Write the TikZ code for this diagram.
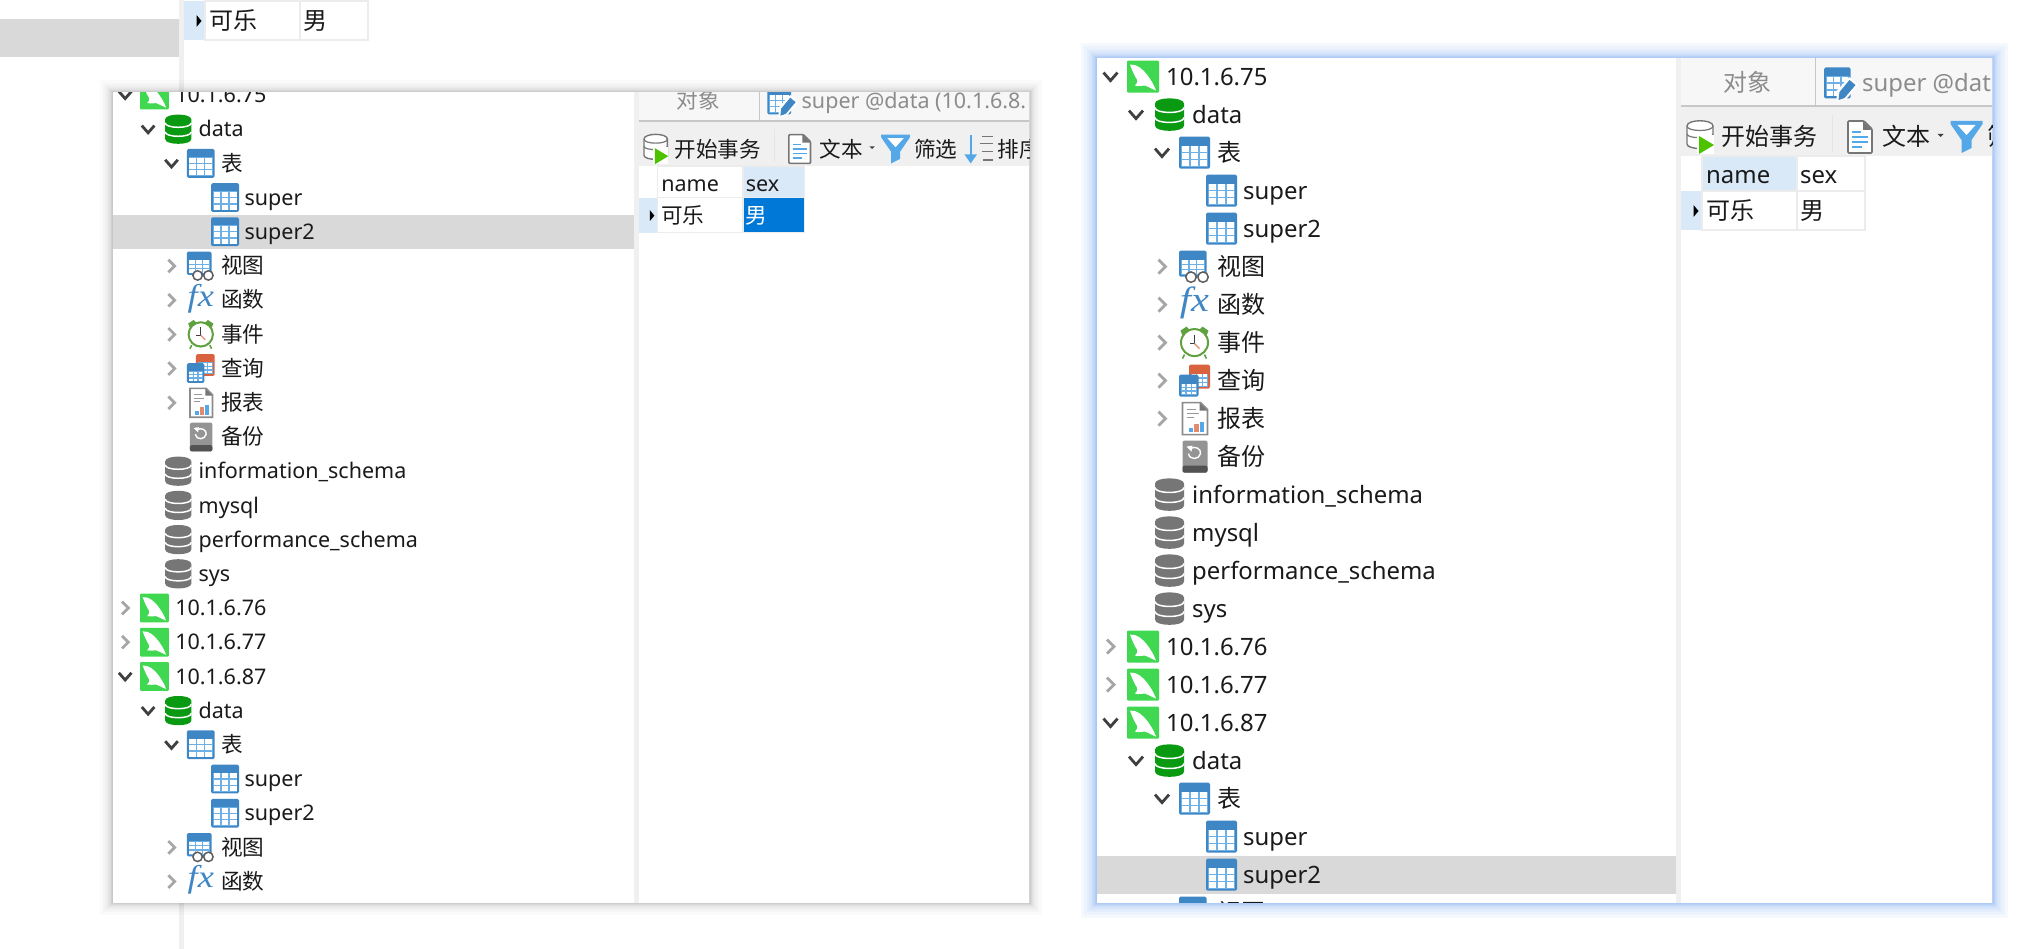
\documentclass[tikz,border=0pt]{standalone}
\usepackage{fontspec}
\setmainfont{Noto Sans}
\newfontfamily\cjk{Noto Sans CJK SC}
\newfontfamily\fxfont{Liberation Serif}
\usepackage{tikz}
\usetikzlibrary{positioning,calc}
\usepackage{xcolor}

\definecolor{tblue}{HTML}{3F86C4}
\definecolor{tcell}{HTML}{6DB0E6}
\definecolor{tred}{HTML}{D9623F}
\definecolor{dbgreen}{HTML}{0A9A12}
\definecolor{dbgray}{HTML}{767676}
\definecolor{srvgreen}{HTML}{40D850}
\definecolor{clockgreen}{HTML}{5FA03F}
\definecolor{ink}{HTML}{1A1A1A}
\definecolor{tabgray}{HTML}{8C8C8C}
\definecolor{chevdark}{HTML}{404040}
\definecolor{chevgray}{HTML}{A6A6A6}
\definecolor{paneline}{HTML}{F0F0F0}
\definecolor{selgray}{HTML}{D9D9D9}
\definecolor{headblue}{HTML}{D9E9F8}
\definecolor{cellblue}{HTML}{0078D7}
\definecolor{gridline}{HTML}{ECECEC}
\definecolor{toolblue}{HTML}{55A8E8}
\definecolor{wingray}{HTML}{000000}
\definecolor{winblue}{HTML}{5E9DF2}

\tikzset{
  navtext/.style={anchor=base west,inner sep=0pt,font=\fontsize{23.9}{28}\selectfont,text=ink},
  tabtext/.style={navtext,text=tabgray},
  sheetcell/.style={draw=gridline,line width=1.2pt}
}
\newcommand{\cn}[1]{{\cjk\fontsize{24}{28}\selectfont #1}}

% small table, given colour and box
\newcommand{\gridicon}[5]{
  \pgfmathsetmacro{\gw}{(#4-(#2)-4)/3}
  \pgfmathsetmacro{\gh}{(#5-(#3)-11)/3}
  \fill[#1,rounded corners=1.5pt] (#2,#3) rectangle (#4,#5);
  \fill[tcell] ({#2+2},{#3+9}) rectangle ({#4-2},{#5-2});
  \foreach \c in {0,1,2}
    \foreach \r in {0,1,2}
      \fill[white] ({#2+2+\c*\gw+.7},{#3+9+\r*\gh+.7}) rectangle ({#2+2+(\c+1)*\gw-.7},{#3+9+(\r+1)*\gh-.7});
}
\newcommand{\tableicon}{\gridicon{tblue}{-15.5}{-16}{15.5}{16}}
\newcommand{\dbicon}[1]{
  \fill[#1] (-14.5,-11) .. controls (-14.5,-18) and (14.5,-18) .. (14.5,-11) -- (14.5,11)
    .. controls (14.5,18) and (-14.5,18) .. (-14.5,11) -- cycle;
  \draw[white,line width=1.5pt] (-14.5,-7) .. controls (-14.5,-.5) and (14.5,-.5) .. (14.5,-7);
  \draw[white,line width=1.5pt] (-14.5,3) .. controls (-14.5,9.5) and (14.5,9.5) .. (14.5,3);
}
\newcommand{\greendb}{\dbicon{dbgreen}}
\newcommand{\graydb}{\dbicon{dbgray}}
\newcommand{\servericon}{
  \fill[srvgreen,rounded corners=1pt] (-16,-16) rectangle (16,16);
  \fill[white] (-13,-12) .. controls (-6,-13) and (0,-7) .. (4,-2) .. controls (7,2) and (11,8) .. (13,14)
    .. controls (8,12) and (5,10) .. (2,9) .. controls (-1,9) and (-5,10) .. (-8,9)
    .. controls (-6,7) and (-5,5) .. (-6,3) .. controls (-8,0) and (-11,-6) .. (-13,-12) -- cycle;
}
\newcommand{\viewicon}{
  \gridicon{tblue}{-15.5}{-16}{12}{10}
  \draw[chevdark!85,fill=white,line width=1.5pt] (-3.5,10.5) circle (5.2);
  \draw[chevdark!85,fill=white,line width=1.5pt] (8.5,10.5) circle (5.2);
}
\newcommand{\fxicon}{
  \node[inner sep=0pt,text=tblue,xscale=1.15,font=\fxfont\itshape\fontsize{35}{35}\selectfont] (fx) at (0,-2) {fx};
}
\newcommand{\clockicon}{
  \fill[clockgreen] (-14,-12) -- (-8,-16) -- (-5,-13) -- (-12,-7) -- cycle;
  \fill[clockgreen] (14,-12) -- (8,-16) -- (5,-13) -- (12,-7) -- cycle;
  \draw[clockgreen,line width=1.6pt] (-10,12) -- (-12,16) (10,12) -- (12,16);
  \draw[clockgreen,line width=2pt,fill=white] (0,0) circle (13.5);
  \draw[chevdark,line width=1.3pt] (0,-8) -- (0,1) -- (-5,1);
  \draw[tred!70,line width=1.3pt] (0,1) -- (5,6);
}
\newcommand{\queryicon}{
  \gridicon{tred}{-5.5}{-16}{15.5}{8}
  \gridicon{tblue}{-15.5}{-6}{4}{16}
}
\newcommand{\reporticon}{
  \draw[black!45,line width=1.7pt,fill=white] (-12,-16) -- (6,-16) -- (13,-9) -- (13,16) -- (-12,16) -- cycle;
  \fill[dbgray] (5,-16) -- (13,-8) -- (5,-8) -- cycle;
  \foreach \ly/\lw in {-9/9,-5/12,-1/7}
    \draw[black!40,line width=1.2pt] (-8,\ly) -- ({-8+\lw},\ly);
  \fill[toolblue] (-6,9) rectangle (-2,13.5);
  \fill[tred!75] (-1,5) rectangle (4,13.5);
  \fill[toolblue] (5,3) rectangle (9.5,13.5);
}
\newcommand{\backupicon}{
  \fill[black!42,rounded corners=2pt] (-12,-16) rectangle (13,16);
  \fill[black!68,rounded corners=2pt] (-12,9) rectangle (13,16);
  \draw[white,line width=1.4pt] (-4,-8) .. controls (0,-11) and (7,-8) .. (6,-3) .. controls (5,3) and (-5,4) .. (-6,-3);
  \fill[white] (-8,-10) -- (-2,-11) -- (-3,-5) -- cycle;
}
\newcommand{\chevopen}{\draw[chevdark,line width=2.8pt] (-7,-4) -- (0,4) -- (7,-4);}
\newcommand{\chevshut}{\draw[chevgray,line width=2.8pt] (-3.5,-7) -- (3.5,0) -- (-3.5,7);}

% toolbar icons
\newcommand{\txicon}{
  \draw[dbgray,line width=1.4pt,fill=white] (-13,-11) .. controls (-13,-18) and (13,-18) .. (13,-11) -- (13,7)
    .. controls (13,13) and (-13,13) .. (-13,7) -- cycle;
  \draw[dbgray,line width=1.2pt] (-13,-11) .. controls (-13,-5) and (13,-5) .. (13,-11);
  \draw[dbgray,line width=1.2pt] (-13,-3) .. controls (-13,2) and (13,2) .. (13,-3);
  \fill[white] (-3,-2) rectangle (14,17);
  \fill[green!60!black!60!lime] (-1,-1) -- (14,8) -- (-1,17) -- cycle;
}
\newcommand{\docicon}{
  \draw[dbgray,line width=1.6pt,fill=white,rounded corners=1pt] (-12,-16) -- (4,-16) -- (12,-8) -- (12,16) -- (-12,16) -- cycle;
  \fill[dbgray] (3,-16) -- (12,-7) -- (3,-7) -- cycle;
  \foreach \ly/\lw in {-5/9,0/16,5/16,10/10}
    \draw[toolblue,line width=1.6pt] (-8,\ly) -- ({-8+\lw},\ly);
}
\newcommand{\filtericon}{
  \fill[toolblue] (-16,-16) -- (16,-16) -- (16,-13) -- (5,3) -- (5,11) -- (-5,16) -- (-5,3) -- (-16,-13) -- cycle;
  \fill[white] (-9,-12) -- (9,-12) -- (0,-2) -- cycle;
}
\newcommand{\sorticon}{
  \draw[toolblue,line width=2.4pt] (-10,-16) -- (-10,12);
  \fill[toolblue] (-17,6) -- (-3,6) -- (-10,16) -- cycle;
  \foreach \ly/\lx in {-14/2,-6/0,3/2,12/4}
    \draw[dbgray,line width=1.6pt] (\lx,\ly) -- (15,\ly);
}
\newcommand{\editicon}{
  \gridicon{tblue}{-15.5}{-15.5}{11}{15.5}
  \fill[white] (-3,19) -- (-3,8) -- (10,-6) -- (19,2) -- (6,17) -- cycle;
  \fill[tblue] (-1,17) -- (0,9) -- (10,-3) -- (16,2) -- (5,15) -- cycle;
}

% tree on the left of a window, row 0 at y=0
\newcommand{\navtree}{
  \foreach \i/\chv/\lv/\ico/\lbl in {
    0/\chevopen/0/\servericon/{10.1.6.75},
    1/\chevopen/1/\greendb/{data},
    2/\chevopen/2/\tableicon/{\cn{表}},
    3/\relax/3/\tableicon/{super},
    4/\relax/3/\tableicon/{super2},
    5/\chevshut/2/\viewicon/{\cn{视图}},
    6/\chevshut/2/\fxicon/{\cn{函数}},
    7/\chevshut/2/\clockicon/{\cn{事件}},
    8/\chevshut/2/\queryicon/{\cn{查询}},
    9/\chevshut/2/\reporticon/{\cn{报表}},
    10/\relax/2/\backupicon/{\cn{备份}},
    11/\relax/1/\graydb/{information\_schema},
    12/\relax/1/\graydb/{mysql},
    13/\relax/1/\graydb/{performance\_schema},
    14/\relax/1/\graydb/{sys},
    15/\chevshut/0/\servericon/{10.1.6.76},
    16/\chevshut/0/\servericon/{10.1.6.77},
    17/\chevopen/0/\servericon/{10.1.6.87},
    18/\chevopen/1/\greendb/{data},
    19/\chevopen/2/\tableicon/{\cn{表}},
    20/\relax/3/\tableicon/{super},
    21/\relax/3/\tableicon/{super2},
    22/\chevshut/2/\viewicon/{\cn{视图}},
    23/\chevshut/2/\fxicon/{\cn{函数}}} {
    \pgfmathsetmacro{\rowy}{38*\i}
    \pgfmathsetmacro{\chevx}{{13.5,39,65,0}[\lv]}
    \pgfmathsetmacro{\iconx}{{46,72.5,97.5,124.5}[\lv]}
    \pgfmathsetmacro{\textx}{{69,95,120,146}[\lv]}
    \begin{scope}[shift={(\chevx,\rowy)}] \chv \end{scope}
    \begin{scope}[shift={(\iconx,\rowy)}] \ico \end{scope}
    \node[navtext] (row\i) at (\textx,\rowy+8.5) {\lbl};
  }
}

% one row of the result sheet
\newcommand{\sheetrow}[2]{
  \fill[headblue] (0,115) rectangle (21,154);
  \draw[sheetcell] (21,115) rectangle (116,154);
  \draw[sheetcell,fill=#1] (116,115) rectangle (184,154);
  \fill[black] (12.5,129) -- (17.5,135) -- (12.5,141) -- cycle;
  \node[navtext] (cola) at (25,144) {\cn{可乐}};
  \node[navtext,text=#2] (sexa) at (119,144) {\cn{男}};
}
\newcommand{\sheethead}[2]{
  \draw[sheetcell,fill=#1] (21,80) rectangle (116,115);
  \draw[sheetcell,fill=#2] (116,80) rectangle (184,115);
  \node[navtext] (namehead) at (25,108) {name};
  \node[navtext] (sexhead) at (119,108) {sex};
}
\newcommand{\sidepane}[1]{
  \fill[white] (0,-120) rectangle (900,900);
  \fill[black!3] (0,-120) rectangle (900,30);
  \draw[black!22,line width=1.4pt] (0,30) -- (900,30);
  \draw[black!22,line width=1pt] (134,-120) -- (134,30);
  \node[tabtext] (tabobj) at (42,15.5) {\cn{对象}};
  \begin{scope}[shift={(158.5,7)}] \editicon \end{scope}
  \node[tabtext] (tabtable) at (181,15.5) {#1};
  \fill[paneline] (0,31) rectangle (900,80);
  \begin{scope}[shift={(19,61)}] \txicon \end{scope}
  \node[navtext] (tbstart) at (40,70) {\cn{开始事务}};
  \draw[black!10,line width=1pt] (151,39) -- (151,76);
  \begin{scope}[shift={(179,61)}] \docicon \end{scope}
  \node[navtext] (tbtext) at (201,70) {\cn{文本}};
  \fill[chevdark] (256.5,58) -- (262.5,58) -- (259.5,61) -- cycle;
  \begin{scope}[shift={(285.5,61)}] \filtericon \end{scope}
  \node[navtext] (tbfilter) at (306,70) {\cn{筛选}};
}

\begin{document}
\begin{tikzpicture}[x=1pt,y=-1pt]
  \useasboundingbox (0,0) rectangle (2044,949);
  \fill[white] (0,0) rectangle (2044,949);
  % window behind
  \fill[selgray] (0,19) rectangle (179,57);
  \fill[paneline] (179,0) rectangle (184,949);
  \begin{scope}[shift={(184,-114)},name prefix=back-]
    \sheetrow{white}{ink}
  \end{scope}

  % left window
  \foreach \k in {1,1.5,2,2.5,3,4,5,6,8,10,13}
    \fill[wingray,opacity=.02] ({113-\k},{93-\k}) rectangle ({1029+\k},{902+\k});
  \begin{scope}
    \clip (113,93) rectangle (1029,902);
    \begin{scope}[shift={(113,95)},scale=.9,transform shape,name prefix=left-]
      \fill[white] (0,-30) rectangle (1100,900);
      \fill[selgray] (0,133) rectangle (579,171);
      \navtree
      \fill[paneline] (579,-30) rectangle (584,900);
      \begin{scope}[shift={(584,-1)}]
        \sidepane{super @data (10.1.6.8.}
        \begin{scope}[shift={(379,61)}] \sorticon \end{scope}
        \node[navtext] (tbsort) at (399,70) {\cn{排序}};
        \sheethead{white}{headblue}
        \sheetrow{cellblue}{white}
      \end{scope}
    \end{scope}
  \end{scope}

  % right window
  \foreach \k in {1,1.5,2,2.5,3,4,5,6,8,10,13,16}
    \fill[winblue,opacity=.06] ({1097-\k},{59-\k}) rectangle ({1992+\k},{902+\k});
  \begin{scope}
    \clip (1097,59) rectangle (1992,902);
    \begin{scope}[shift={(1097,76.6)},name prefix=right-]
      \fill[white] (0,-30) rectangle (1000,900);
      \fill[selgray] (0,779) rectangle (579,817);
      \navtree
      \fill[paneline] (579,-30) rectangle (584,900);
      \begin{scope}[shift={(584,-.6)}]
        \sidepane{super @dat}
        \sheethead{headblue}{white}
        \sheetrow{white}{ink}
      \end{scope}
    \end{scope}
  \end{scope}
\end{tikzpicture}
\end{document}
